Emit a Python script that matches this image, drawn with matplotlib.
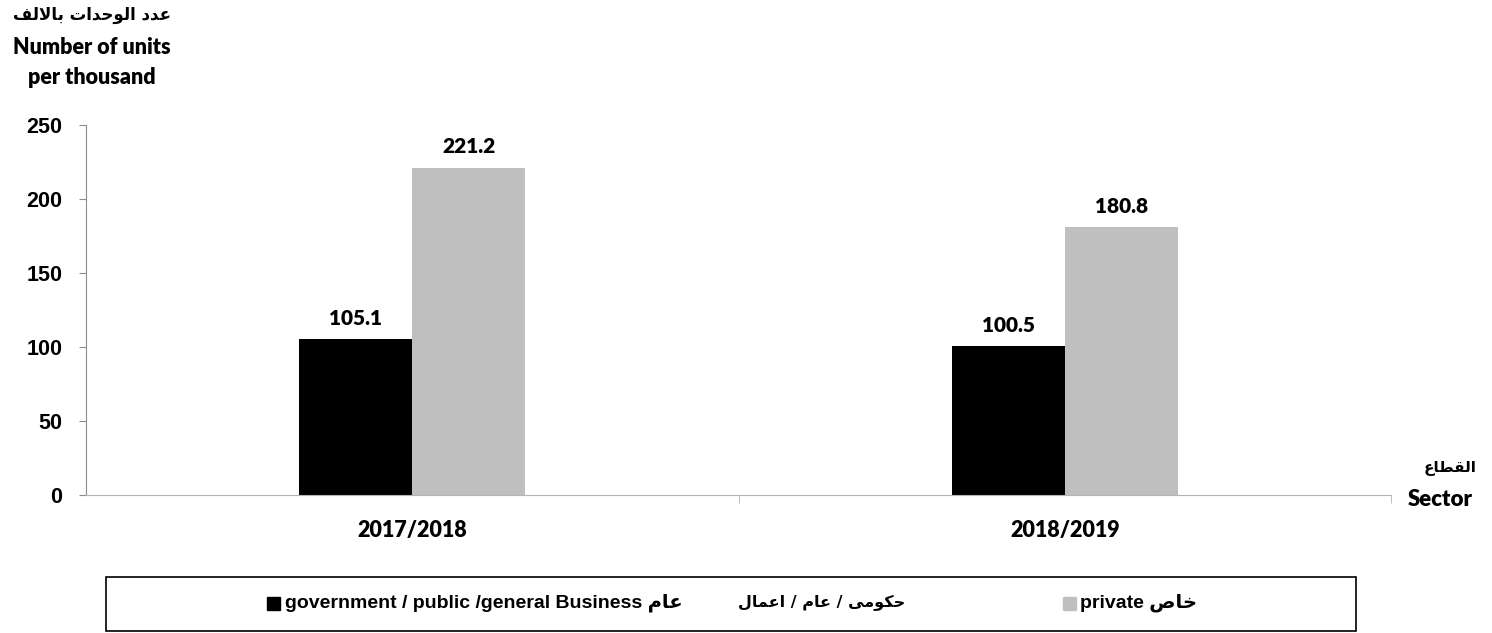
import matplotlib
matplotlib.use('Agg')
import matplotlib.pyplot as plt
from matplotlib.patches import Rectangle

# data
periods = ['2017/2018', '2018/2019']
gov_values = [105.1, 100.5]
private_values = [221.2, 180.8]
y_ticks = [0, 50, 100, 150, 200, 250]

# texts
y_title_ar = 'عدد الوحدات بالالف'
y_title_en = ['Number of units', 'per thousand']
x_title_ar = 'القطاع'
x_title_en = 'Sector'
gov_label_en = 'government / public /general Business'
gov_label_ar_tail = 'عام'
gov_label_ar = 'حكومى / عام / اعمال'
private_label_en = 'private'
private_label_ar = 'خاص'

# matplotlib does no arabic shaping -> pick presentation forms by hand
FORMS = {
    'ا': ('\uFE8D', '\uFE8E'),
    'ب': ('\uFE8F', '\uFE90', '\uFE91', '\uFE92'),
    'ت': ('\uFE95', '\uFE96', '\uFE97', '\uFE98'),
    'ح': ('\uFEA1', '\uFEA2', '\uFEA3', '\uFEA4'),
    'خ': ('\uFEA5', '\uFEA6', '\uFEA7', '\uFEA8'),
    'د': ('\uFEA9', '\uFEAA'),
    'ص': ('\uFEB9', '\uFEBA', '\uFEBB', '\uFEBC'),
    'ط': ('\uFEC1', '\uFEC2', '\uFEC3', '\uFEC4'),
    'ع': ('\uFEC9', '\uFECA', '\uFECB', '\uFECC'),
    'ف': ('\uFED1', '\uFED2', '\uFED3', '\uFED4'),
    'ق': ('\uFED5', '\uFED6', '\uFED7', '\uFED8'),
    'ك': ('\uFED9', '\uFEDA', '\uFEDB', '\uFEDC'),
    'ل': ('\uFEDD', '\uFEDE', '\uFEDF', '\uFEE0'),
    'م': ('\uFEE1', '\uFEE2', '\uFEE3', '\uFEE4'),
    'و': ('\uFEED', '\uFEEE'),
    'ى': ('\uFEEF', '\uFEF0'),
}


def shape_ar(text):
    out = []
    i = 0
    n = len(text)
    while i < n:
        c = text[i]
        if c not in FORMS:
            out.append(c)
            i += 1
            continue
        joins_prev = i > 0 and len(FORMS.get(text[i - 1], ())) == 4
        if c == 'ل' and i + 1 < n and text[i + 1] == 'ا':
            out.append('\uFEFC' if joins_prev else '\uFEFB')
            i += 2
            continue
        forms = FORMS[c]
        joins_next = len(forms) == 4 and i + 1 < n and text[i + 1] in FORMS
        if joins_prev and joins_next:
            g = forms[3]
        elif joins_prev:
            g = forms[1]
        elif joins_next:
            g = forms[2]
        else:
            g = forms[0]
        out.append(g)
        i += 1
    return ''.join(reversed(out))


W, H = 1492, 633
fig = plt.figure(figsize=(W / 100, H / 100), dpi=100)
ax = fig.add_axes([86 / W, 1 - 495 / H, 1305 / W, 370 / H])

calibri = ['Lato', 'DejaVu Sans']
arial = ['Liberation Sans', 'DejaVu Sans']
arab = ['DejaVu Sans']

bw = 0.173
x = [i + 0.5 for i in range(len(periods))]
b1 = ax.bar([v - bw / 2 for v in x], gov_values, bw, color='black')
b2 = ax.bar([v + bw / 2 for v in x], private_values, bw, color='#bfbfbf')

for bars, vals in ((b1, gov_values), (b2, private_values)):
    for r, v in zip(bars, vals):
        ax.annotate(f'{v:.1f}', (r.get_x() + r.get_width() / 2, v),
                    xytext=(0, 10.5), textcoords='offset points',
                    ha='center', va='baseline', fontsize=15,
                    fontweight='heavy', family=calibri)

ax.set_xlim(0, len(periods))
ax.set_ylim(0, 250)
ax.set_yticks(y_ticks)
ax.set_yticklabels([str(t) for t in y_ticks], fontsize=15.5,
                   fontweight='bold', family=arial)
ax.set_xticks(x)
ax.set_xticklabels(periods, fontsize=15.5, fontweight='heavy', family=calibri)
ax.set_xticks(range(1, len(periods) + 1), minor=True)
ax.tick_params(axis='x', which='major', length=0, pad=18)
ax.tick_params(axis='x', which='minor', length=6, color='#b4b4b4', direction='out')
ax.tick_params(axis='y', length=5, color='#8c8c8c', direction='out', pad=12)

for s in ('top', 'right'):
    ax.spines[s].set_visible(False)
ax.spines['left'].set_color('#8c8c8c')
ax.spines['bottom'].set_color('#b4b4b4')

# axis titles
fig.text(92 / W, 1 - 15 / H, shape_ar(y_title_ar), ha='center', va='center',
         fontsize=12, fontweight='bold', family=arab)
fig.text(92 / W, 1 - 48 / H, y_title_en[0], ha='center', va='center',
         fontsize=15.5, fontweight='heavy', family=calibri)
fig.text(92 / W, 1 - 78 / H, y_title_en[1], ha='center', va='center',
         fontsize=15.5, fontweight='heavy', family=calibri)
fig.text(1450 / W, 1 - 468 / H, shape_ar(x_title_ar), ha='center', va='center',
         fontsize=11, fontweight='bold', family=arab)
fig.text(1440 / W, 1 - 500 / H, x_title_en, ha='center', va='center',
         fontsize=16, fontweight='heavy', family=calibri)

# legend box
fig.patches.append(Rectangle((106 / W, 1 - 631 / H), 1250 / W, 54 / H,
                             transform=fig.transFigure, fill=False,
                             edgecolor='black', linewidth=1.2))
ly = 1 - 603 / H
sq = 13
fig.patches.append(Rectangle((267 / W, ly - sq / 2 / H), sq / W, sq / H,
                             transform=fig.transFigure, color='black'))
fig.text(285 / W, ly, gov_label_en + ' ' + shape_ar(gov_label_ar_tail),
         ha='left', va='center', fontsize=14, fontweight='bold', family=arial)
fig.text(905 / W, ly, shape_ar(gov_label_ar), ha='right', va='center',
         fontsize=11.5, fontweight='bold', family=arab)
fig.patches.append(Rectangle((1063 / W, ly - sq / 2 / H), sq / W, sq / H,
                             transform=fig.transFigure, color='#bfbfbf'))
fig.text(1080 / W, ly, private_label_en + ' ' + shape_ar(private_label_ar),
         ha='left', va='center', fontsize=14, fontweight='bold', family=arial)

fig.savefig('out.png', dpi=100)
